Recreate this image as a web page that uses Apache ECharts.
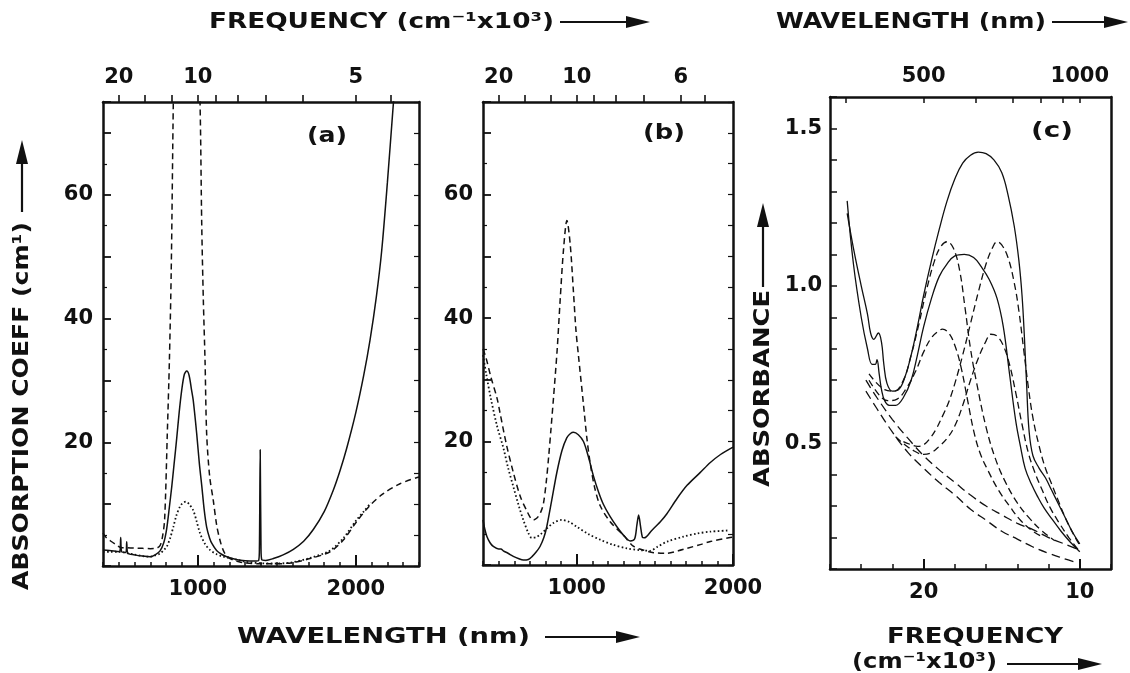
<!DOCTYPE html>
<html>
<head>
<meta charset="utf-8">
<script src="https://cdn.jsdelivr.net/npm/echarts@6/dist/echarts.min.js"></script>
<style>
  html, body { margin: 0; padding: 0; background: #fff; }
  #chart { width: 1130px; height: 673px; }
</style>
</head>
<body>
<div id="chart"></div>
<script>
// ---- panel (a): absorption coefficient (cm^-1) vs wavelength (nm) ----
const aSolid = [[400,2.6],[440,2.5],[480,2.4],[505,2.3],[512,4.6],[518,2.3],[545,2.2],[550,3.9],[556,2.1],[600,1.8],[650,1.6],[700,1.5],[730,1.8],[760,2.4],[785,3.8],[803,6.0],[820,9.5],[835,12.8],[850,16.5],[866,20.5],[882,24.8],[898,28.4],[915,31.0],[930,31.5],[945,30.8],[960,28.5],[971,26.8],[993,21.4],[1010,16.5],[1025,13.0],[1040,9.2],[1056,6.3],[1075,4.5],[1090,3.6],[1119,2.5],[1150,1.9],[1183,1.5],[1250,1.0],[1300,0.85],[1360,0.8],[1385,0.9],[1390,3],[1395,18.8],[1400,3],[1405,1.0],[1430,0.9],[1478,1.2],[1540,1.8],[1605,2.7],[1670,4.0],[1731,5.9],[1800,8.8],[1858,12.3],[1900,15.4],[1942,19.0],[2000,24.8],[2050,30.8],[2090,36.5],[2130,43.5],[2164,51],[2200,62],[2237,74.5],[2260,82]];
const aDashed = [[400,5.3],[420,4.6],[450,4.0],[480,3.5],[512,3.0],[550,2.95],[600,2.9],[650,2.85],[700,2.8],[740,2.9],[761,3.3],[775,4.5],[790,7.5],[807,21.4],[820,33],[832,48],[845,75],[860,100],[920,140],[985,100],[1014,75],[1025,55],[1035,43],[1046,33],[1056,21.4],[1075,14.5],[1098,10.6],[1120,6.5],[1140,4.2],[1160,2.6],[1183,1.6],[1220,1.0],[1260,0.7],[1300,0.5],[1400,0.35],[1500,0.35],[1600,0.55],[1710,1.2],[1837,2.3],[1921,4.2],[2006,7.2],[2090,9.8],[2174,11.7],[2280,13.3],[2400,14.4]];
const aDotted = [[400,2.3],[450,2.3],[508,2.3],[550,2.1],[592,1.9],[650,1.6],[697,1.5],[730,1.7],[761,2.0],[785,2.6],[803,3.1],[825,4.5],[845,6.3],[865,8.2],[887,9.6],[905,10.2],[925,10.4],[945,10.0],[971,9.0],[993,7.2],[1014,5.3],[1045,3.6],[1077,2.6],[1120,1.9],[1161,1.5],[1253,1.0],[1300,0.7],[1400,0.45],[1500,0.4],[1600,0.6],[1710,1.3],[1837,2.5],[1921,4.5],[2006,7.5],[2050,8.8],[2095,10.2]];

// ---- panel (b) ----
const bSolid = [[400,7.3],[410,6.0],[425,4.6],[445,3.6],[466,3.0],[500,2.6],[515,2.6],[530,2.3],[560,1.9],[594,1.4],[630,1.0],[658,0.8],[690,0.9],[715,1.4],[740,2.1],[765,3.0],[790,4.5],[808,6.2],[840,10.5],[872,14.9],[905,18.5],[936,20.6],[960,21.3],[979,21.5],[1010,21.1],[1043,20.0],[1075,17.5],[1107,14.4],[1140,11.8],[1171,9.8],[1210,8.0],[1257,6.2],[1300,4.8],[1342,3.9],[1370,4.2],[1385,6.5],[1396,8.1],[1408,6.3],[1420,4.5],[1432,4.4],[1480,5.6],[1535,7.0],[1577,8.3],[1640,10.7],[1706,12.9],[1791,15.0],[1855,16.6],[1920,17.9],[2000,19.1]];
const bDashed = [[400,35],[420,33.5],[450,30.5],[490,27],[510,24.5],[550,19.5],[594,15],[640,11],[680,8.8],[705,7.6],[722,7.3],[745,7.6],[770,8.6],[787,10],[805,13.5],[820,17.5],[835,22],[851,27],[875,35],[894,43],[915,51],[937,55.8],[958,52],[979,44.2],[995,38],[1011,33.9],[1043,26],[1065,20.5],[1086,16.5],[1115,12.5],[1150,9.6],[1214,7.0],[1300,4.8],[1364,3.0],[1430,2.4],[1492,2.0],[1577,1.9],[1650,2.3],[1706,2.7],[1790,3.3],[1855,3.8],[1973,4.4],[2000,4.5]];
const bDotted = [[400,34],[420,31],[450,27],[490,22.5],[530,19],[560,15.8],[594,12.7],[630,9.5],[658,7.3],[690,5.2],[712,4.4],[740,4.5],[770,5.0],[808,5.9],[850,6.8],[904,7.3],[950,7.0],[1000,6.2],[1075,5.0],[1150,4.1],[1230,3.3],[1321,2.7],[1406,2.4],[1471,2.3],[1513,2.9],[1580,3.8],[1684,4.6],[1770,5.1],[1855,5.4],[1973,5.6]];

// ---- panel (c): absorbance vs frequency (10^3 cm^-1) ----
const cSolidBig = [[24.9,1.23],[24.5,1.12],[24.0,1.0],[23.6,0.91],[23.4,0.85],[23.2,0.83],[22.9,0.85],[22.7,0.82],[22.55,0.75],[22.35,0.69],[22.0,0.665],[21.6,0.67],[21.2,0.71],[20.8,0.78],[20.4,0.87],[20.0,0.97],[19.5,1.08],[19.0,1.18],[18.5,1.27],[18.0,1.34],[17.5,1.39],[17.0,1.415],[16.5,1.425],[16.0,1.42],[15.5,1.40],[15.0,1.36],[14.6,1.29],[14.2,1.19],[13.9,1.08],[13.7,0.97],[13.55,0.84],[13.4,0.68],[13.25,0.54],[13.0,0.46],[12.6,0.42],[12.2,0.39],[11.8,0.35],[11.4,0.31],[11.0,0.27],[10.5,0.22],[10.0,0.18]];
const cSolidSmall = [[24.9,1.27],[24.5,1.07],[24.0,0.90],[23.6,0.80],[23.3,0.75],[23.1,0.75],[22.99,0.765],[22.85,0.72],[22.7,0.67],[22.5,0.635],[22.2,0.62],[21.8,0.62],[21.3,0.645],[20.8,0.70],[20.4,0.78],[20.0,0.87],[19.5,0.96],[19.0,1.03],[18.5,1.07],[18.0,1.095],[17.4,1.10],[16.8,1.09],[16.3,1.06],[15.8,1.02],[15.3,0.96],[14.9,0.87],[14.5,0.72],[14.1,0.57],[13.8,0.49],[13.5,0.42],[13.1,0.37],[12.7,0.33],[12.3,0.295],[11.8,0.26],[11.2,0.22],[10.6,0.185],[10.0,0.155]];
const cBaseA = [[23.7,0.70],[23.0,0.645],[22.0,0.575],[21.0,0.515],[20.0,0.46],[19.0,0.415],[18.0,0.375],[17.0,0.335],[16.0,0.30],[15.0,0.272],[14.0,0.245],[13.0,0.225],[12.0,0.2],[11.0,0.18],[10.0,0.16]];
const cBaseB = [[23.7,0.665],[23.0,0.61],[22.0,0.535],[21.0,0.47],[20.0,0.42],[19.0,0.375],[18.0,0.335],[17.0,0.29],[16.0,0.255],[15.0,0.22],[14.0,0.195],[13.0,0.17],[12.0,0.15],[11.0,0.133],[10.2,0.12]];
const cBand1Big = [[23.5,0.72],[22.5,0.67],[21.9,0.665],[21.3,0.70],[20.8,0.78],[20.3,0.88],[19.8,0.99],[19.3,1.08],[18.9,1.125],[18.5,1.14],[18.1,1.12],[17.7,1.05],[17.35,0.93],[17.0,0.80],[16.6,0.69],[16.0,0.55],[15.4,0.45],[14.8,0.38],[14.0,0.31],[13.2,0.26],[12.4,0.22],[11.6,0.19]];
const cBand1Small = [[23.5,0.70],[22.8,0.65],[22.3,0.635],[21.7,0.64],[21.1,0.675],[20.5,0.73],[20.0,0.79],[19.5,0.835],[19.0,0.858],[18.8,0.862],[18.4,0.85],[18.0,0.81],[17.6,0.74],[17.2,0.64],[16.8,0.54],[16.4,0.47],[15.9,0.415],[15.2,0.35],[14.5,0.30],[13.8,0.255],[13.0,0.22],[12.3,0.20]];
const cBand2Big = [[21.3,0.505],[20.8,0.495],[20.4,0.49],[20.0,0.495],[19.6,0.515],[19.2,0.545],[18.8,0.585],[18.4,0.63],[18.0,0.69],[17.5,0.78],[17.0,0.88],[16.5,0.98],[16.0,1.07],[15.6,1.12],[15.3,1.14],[15.0,1.13],[14.6,1.09],[14.2,1.01],[13.9,0.92],[13.6,0.80],[13.3,0.68],[13.0,0.58],[12.6,0.49],[12.2,0.42],[11.8,0.37],[11.4,0.32],[10.9,0.26],[10.4,0.21],[10.0,0.175]];
const cBand2Small = [[21.8,0.52],[21.2,0.495],[20.6,0.475],[20.0,0.464],[19.5,0.47],[19.0,0.49],[18.5,0.515],[18.0,0.555],[17.5,0.62],[17.0,0.70],[16.5,0.77],[16.0,0.825],[15.7,0.846],[15.3,0.84],[14.9,0.81],[14.5,0.75],[14.1,0.66],[13.7,0.56],[13.3,0.47],[12.9,0.41],[12.4,0.35],[11.9,0.295],[11.3,0.245],[10.7,0.2],[10.0,0.155]];

// ---- tick labels ----
const abWaveLabels = [1000, 2000];          // nm, bottom of (a) and (b)
const aFreqLabels = [20, 10, 5];            // 10^3 cm^-1, top of (a)
const aFreqTicks = [20, 15, 12, 10, 9, 8, 7, 6, 5, 4.5];
const bFreqLabels = [20, 10, 6];            // top of (b)
const bFreqTicks = [20, 15, 12, 10, 9, 8, 7, 6, 5.5];
const abCoeffLabels = [20, 40, 60];         // cm^-1
const cFreqLabels = [20, 10];               // bottom of (c)
const cWaveLabels = [500, 1000];            // top of (c)
const cWaveTicks = [400, 500, 600, 700, 800, 900, 1000];
const cAbsLabels = [0.5, 1.0, 1.5];

const INK = '#111';
const FONT = 'DejaVu Sans';
const labelStyle = { color: INK, fontFamily: FONT, fontWeight: 'bold', fontSize: 21 };
const frame = { show: true, lineStyle: { color: INK, width: 2.5 } };
const toWave = f => 1e4 / f;   // 10^3 cm^-1 <-> nm
const plain = v => String(Math.round(v));

function bottomWaveAxes(grid, max) {
  return [
    { gridIndex: grid, type: 'value', min: 400, max: max, interval: 100, position: 'bottom',
      axisLine: frame, splitLine: { show: false },
      axisTick: { inside: true, length: 4, lineStyle: { color: INK, width: 1.5 } },
      axisLabel: Object.assign({ customValues: abWaveLabels, margin: 13, formatter: plain }, labelStyle) },
    { gridIndex: grid, type: 'value', min: 400, max: max, position: 'bottom',
      axisLine: { show: false }, splitLine: { show: false }, axisLabel: { show: false },
      axisTick: { customValues: abWaveLabels, inside: true, length: 11, lineStyle: { color: INK, width: 2 } } },
  ];
}
function topFreqAxis(grid, max, labels, ticks) {
  return { gridIndex: grid, type: 'value', min: 400, max: max, position: 'top',
    axisLine: frame, splitLine: { show: false },
    axisTick: { customValues: ticks.map(toWave), inside: false, length: 7, lineStyle: { color: INK, width: 1.6 } },
    axisLabel: Object.assign({ customValues: labels.map(toWave), margin: 14,
      formatter: v => plain(toWave(v)) }, labelStyle) };
}
function coeffAxes(grid) {
  return [
    { gridIndex: grid, type: 'value', min: 0, max: 75, interval: 10, position: 'left',
      axisLine: frame, splitLine: { show: false },
      axisTick: { inside: true, length: 8, lineStyle: { color: INK, width: 1.8 } },
      minorTick: { show: true, splitNumber: 2, length: 4, lineStyle: { color: INK, width: 1.2 } },
      axisLabel: Object.assign({ customValues: abCoeffLabels, margin: 10, formatter: plain }, labelStyle) },
    { gridIndex: grid, type: 'value', min: 0, max: 75, interval: 5, position: 'right',
      axisLine: frame, splitLine: { show: false }, axisLabel: { show: false },
      axisTick: { inside: true, length: 5, lineStyle: { color: INK, width: 1.2 } } },
  ];
}

const xAxes = [
  ...bottomWaveAxes(0, 2400), topFreqAxis(0, 2400, aFreqLabels, aFreqTicks),
  ...bottomWaveAxes(1, 2000), topFreqAxis(1, 2000, bFreqLabels, bFreqTicks),
  { gridIndex: 2, type: 'value', min: 8, max: 26, interval: 2, inverse: true, position: 'bottom',
    axisLine: frame, splitLine: { show: false },
    axisTick: { inside: true, length: 5, lineStyle: { color: INK, width: 1.5 } },
    axisLabel: Object.assign({ customValues: cFreqLabels, margin: 13, formatter: plain }, labelStyle) },
  { gridIndex: 2, type: 'value', min: 8, max: 26, inverse: true, position: 'bottom',
    axisLine: { show: false }, splitLine: { show: false }, axisLabel: { show: false },
    axisTick: { customValues: cFreqLabels, inside: true, length: 10, lineStyle: { color: INK, width: 2 } } },
  { gridIndex: 2, type: 'value', min: 8, max: 26, inverse: true, position: 'top',
    axisLine: frame, splitLine: { show: false },
    axisTick: { customValues: cWaveTicks.map(toWave), inside: true, length: 6, lineStyle: { color: INK, width: 1.5 } },
    axisLabel: Object.assign({ customValues: cWaveLabels.map(toWave), margin: 10,
      formatter: v => plain(toWave(v)) }, labelStyle) },
];
const yAxes = [
  ...coeffAxes(0), ...coeffAxes(1),
  { gridIndex: 2, type: 'value', min: 0.1, max: 1.6, interval: 0.1, position: 'left',
    axisLine: frame, splitLine: { show: false },
    axisTick: { inside: true, length: 7, lineStyle: { color: INK, width: 1.5 } },
    axisLabel: Object.assign({ customValues: cAbsLabels, margin: 8, formatter: v => v.toFixed(1) }, labelStyle) },
  { gridIndex: 2, type: 'value', min: 0.1, max: 1.6, position: 'right',
    axisLine: frame, splitLine: { show: false }, axisLabel: { show: false }, axisTick: { show: false } },
];

const SOLID = 'solid', DASH = [6, 4], DOT = [1.6, 2.4], LONGDASH = [9, 5], MIDDASH = [7, 4];
function curve(data, xi, yi, type, width, smooth) {
  return { type: 'line', data: data, xAxisIndex: xi, yAxisIndex: yi,
    showSymbol: false, symbol: 'none', smooth: smooth || 0.3, clip: true, silent: true,
    lineStyle: { color: INK, width: width || 1.4, type: type } };
}
const series = [
  curve(aSolid, 0, 0, SOLID, 1.5), curve(aDashed, 0, 0, DASH, 1.5), curve(aDotted, 0, 0, DOT, 1.8),
  curve(bSolid, 3, 2, SOLID, 1.5), curve(bDashed, 3, 2, DASH, 1.5), curve(bDotted, 3, 2, DOT, 1.8),
  curve(cSolidBig, 6, 4, SOLID, 1.3, 0.4), curve(cSolidSmall, 6, 4, SOLID, 1.3, 0.4),
  curve(cBaseA, 6, 4, LONGDASH, 1.3, 0.4), curve(cBaseB, 6, 4, LONGDASH, 1.3, 0.4),
  curve(cBand1Big, 6, 4, MIDDASH, 1.3, 0.4), curve(cBand1Small, 6, 4, MIDDASH, 1.3, 0.4),
  curve(cBand2Big, 6, 4, MIDDASH, 1.3, 0.4), curve(cBand2Small, 6, 4, MIDDASH, 1.3, 0.4),
];

// ---- titles, panel letters and arrows ----
const measureCtx = document.createElement('canvas').getContext('2d');
function fitText(str, size, left, y, width, rot) {
  const font = 'bold ' + size + 'px "' + FONT + '"';
  measureCtx.font = font;
  const w = measureCtx.measureText(str).width;
  return { type: 'text', x: left, y: y, rotation: rot || 0, scaleX: width / w, silent: true,
    style: { text: str, font: font, fill: INK, align: 'left', verticalAlign: 'middle' } };
}
function arrow(x1, y1, x2, y2) {
  const L = Math.hypot(x2 - x1, y2 - y1), ux = (x2 - x1) / L, uy = (y2 - y1) / L;
  const hl = 24, hw = 6;
  const bx = x2 - ux * hl, by = y2 - uy * hl;
  return [
    { type: 'line', silent: true, shape: { x1: x1, y1: y1, x2: bx, y2: by }, style: { stroke: INK, lineWidth: 2.2 } },
    { type: 'polygon', silent: true, shape: { points: [[x2, y2], [bx - uy * hw, by + ux * hw], [bx + uy * hw, by - ux * hw]] },
      style: { fill: INK } },
  ];
}
const graphics = [
  fitText('FREQUENCY (cm⁻¹x10³)', 22, 209, 22, 345),
  ...arrow(560, 22, 650, 22),
  fitText('WAVELENGTH (nm)', 22, 776, 22, 270),
  ...arrow(1052, 22, 1128, 22),
  fitText('WAVELENGTH (nm)', 22, 237, 637, 293),
  ...arrow(545, 637, 640, 637),
  fitText('ABSORPTION COEFF (cm¹)', 22, 22, 590, 368, Math.PI / 2),
  ...arrow(22, 212, 22, 140),
  fitText('ABSORBANCE', 22, 763, 487, 197, Math.PI / 2),
  ...arrow(763, 287, 763, 203),
  fitText('FREQUENCY', 21, 887, 638, 176),
  fitText('(cm⁻¹x10³)', 21, 852, 663, 145),
  ...arrow(1007, 664, 1102, 664),
  fitText('(a)', 21, 307, 137, 40),
  fitText('(b)', 21, 643, 134, 42),
  fitText('(c)', 21, 1031, 132, 42),
];

const chart = echarts.init(document.getElementById('chart'), null, { renderer: 'canvas' });
chart.setOption({
  backgroundColor: '#fff',
  animation: false,
  grid: [
    { left: 103, top: 102, width: 316, height: 464 },
    { left: 483, top: 102, width: 250, height: 463 },
    { left: 830, top: 97, width: 281, height: 472 },
  ],
  xAxis: xAxes,
  yAxis: yAxes,
  series: series,
  graphic: graphics,
});
</script>
</body>
</html>
